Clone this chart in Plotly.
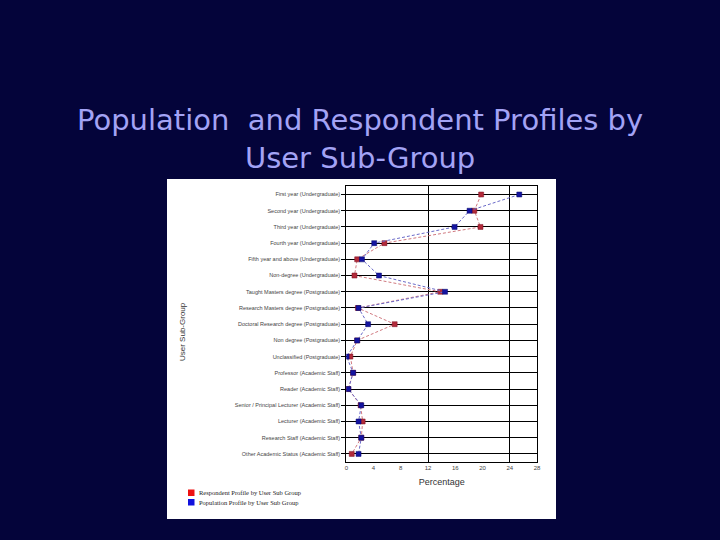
import plotly.graph_objects as go

categories = [
    "First year (Undergraduate)",
    "Second year (Undergraduate)",
    "Third year (Undergraduate)",
    "Fourth year (Undergraduate)",
    "Fifth year and above (Undergraduate)",
    "Non-degree (Undergraduate)",
    "Taught Masters degree (Postgraduate)",
    "Research Masters degree (Postgraduate)",
    "Doctoral Research degree (Postgraduate)",
    "Non degree (Postgraduate)",
    "Unclassified (Postgraduate)",
    "Professor (Academic Staff)",
    "Reader (Academic Staff)",
    "Senior / Principal Lecturer (Academic Staff)",
    "Lecturer (Academic Staff)",
    "Research Staff (Academic Staff)",
    "Other Academic Status (Academic Staff)",
]
respondent = [19.8, 18.8, 19.7, 5.6, 1.6, 1.2, 13.8, 1.7, 7.1, 1.6, 0.6, 1.0, 0.3, 2.1, 2.4, 2.2, 0.8]
population = [25.4, 18.1, 15.9, 4.1, 2.3, 4.8, 14.5, 1.8, 3.2, 1.6, 0.05, 1.0, 0.3, 2.2, 1.8, 2.2, 1.8]
x_ticks = [0, 4, 8, 12, 16, 20, 24, 28]
series_names = ["Respondent Profile by User Sub Group", "Population Profile by User Sub Group"]

BG = "#04043a"
fig = go.Figure()

fig.add_trace(go.Scatter(
    x=respondent, y=categories, mode="lines+markers", name=series_names[0],
    line=dict(color="#d07a80", width=1, dash="3px,2px"),
    marker=dict(symbol="square", size=5, color="#b22a3a", line=dict(color="#7a1020", width=0.5)),
    showlegend=False,
))
fig.add_trace(go.Scatter(
    x=population, y=categories, mode="lines+markers", name=series_names[1],
    line=dict(color="#6a6ac8", width=1, dash="3px,2px"),
    marker=dict(symbol="square", size=5, color="#1414a0", line=dict(color="#08086a", width=0.5)),
    showlegend=False,
))
# overlay axis only for the vertical gridlines at 12 and 24
fig.add_trace(go.Scatter(x=[None], y=[None], xaxis="x2", showlegend=False, hoverinfo="skip"))

x0, x1 = 346.3 / 720, 537.0 / 720
y0, y1 = 1 - 462.0 / 540, 1 - 186.4 / 540

fig.update_layout(
    width=720, height=540,
    margin=dict(l=0, r=0, t=0, b=0),
    paper_bgcolor=BG, plot_bgcolor="white",
    showlegend=False,
    xaxis=dict(
        domain=[x0, x1], range=[0, 28], tickvals=x_ticks,
        showgrid=False, zeroline=False,
        showline=True, linecolor="black", linewidth=1, mirror=True,
        ticks="", tickfont=dict(family="Liberation Sans", size=6, color="#444"),
        title=dict(text="Percentage", font=dict(family="Liberation Sans", size=9, color="#333"), standoff=8),
        automargin=False,
    ),
    xaxis2=dict(
        domain=[x0, x1], range=[0, 28], overlaying="x", anchor="y",
        tickvals=[12, 24], showgrid=True, gridcolor="black", gridwidth=1,
        showticklabels=False, ticks="", zeroline=False, showline=False,
    ),
    yaxis=dict(
        domain=[y0, y1], autorange=False, range=[16.5, -0.5],
        showgrid=True, gridcolor="black", gridwidth=1,
        showline=True, linecolor="black", linewidth=1, mirror=True,
        ticks="outside", ticklen=4, tickcolor="black",
        tickfont=dict(family="Liberation Sans", size=5.5, color="#444"),
        automargin=False,
    ),
    shapes=[
        dict(type="rect", xref="paper", yref="paper",
             x0=167 / 720, x1=556 / 720, y0=1 - 519 / 540, y1=1 - 179 / 540,
             fillcolor="white", line=dict(width=0), layer="below"),
        dict(type="rect", xref="paper", yref="paper",
             x0=188 / 720, x1=194.5 / 720, y0=1 - 496 / 540, y1=1 - 489.5 / 540,
             fillcolor="#ee1111", line=dict(width=0)),
        dict(type="rect", xref="paper", yref="paper",
             x0=188 / 720, x1=194.5 / 720, y0=1 - 505.5 / 540, y1=1 - 499 / 540,
             fillcolor="#1111dd", line=dict(width=0)),
    ],
    annotations=[
        dict(text="Population  and Respondent Profiles by<br>User Sub-Group",
             xref="paper", yref="paper", x=0.5, y=1 - 139 / 540, xanchor="center", yanchor="middle",
             showarrow=False, align="center",
             font=dict(family="DejaVu Sans", size=29, color="#a3a3f5")),
        dict(text="User Sub-Group", xref="paper", yref="paper", x=182 / 720, y=1 - 332 / 540,
             xanchor="center", yanchor="middle", showarrow=False, textangle=-90,
             font=dict(family="Liberation Sans", size=8, color="#333")),
        dict(text=series_names[0], xref="paper", yref="paper", x=197 / 720, y=1 - 492.7 / 540,
             xanchor="left", yanchor="middle", showarrow=False,
             font=dict(family="Liberation Serif", size=6.5, color="#222")),
        dict(text=series_names[1], xref="paper", yref="paper", x=197 / 720, y=1 - 502.3 / 540,
             xanchor="left", yanchor="middle", showarrow=False,
             font=dict(family="Liberation Serif", size=6.5, color="#222")),
    ],
)

fig.write_html(
    "out.html",
    config={"displayModeBar": False},
    post_script="document.body.style.margin='0';document.body.style.background='" + BG + "';",
)
